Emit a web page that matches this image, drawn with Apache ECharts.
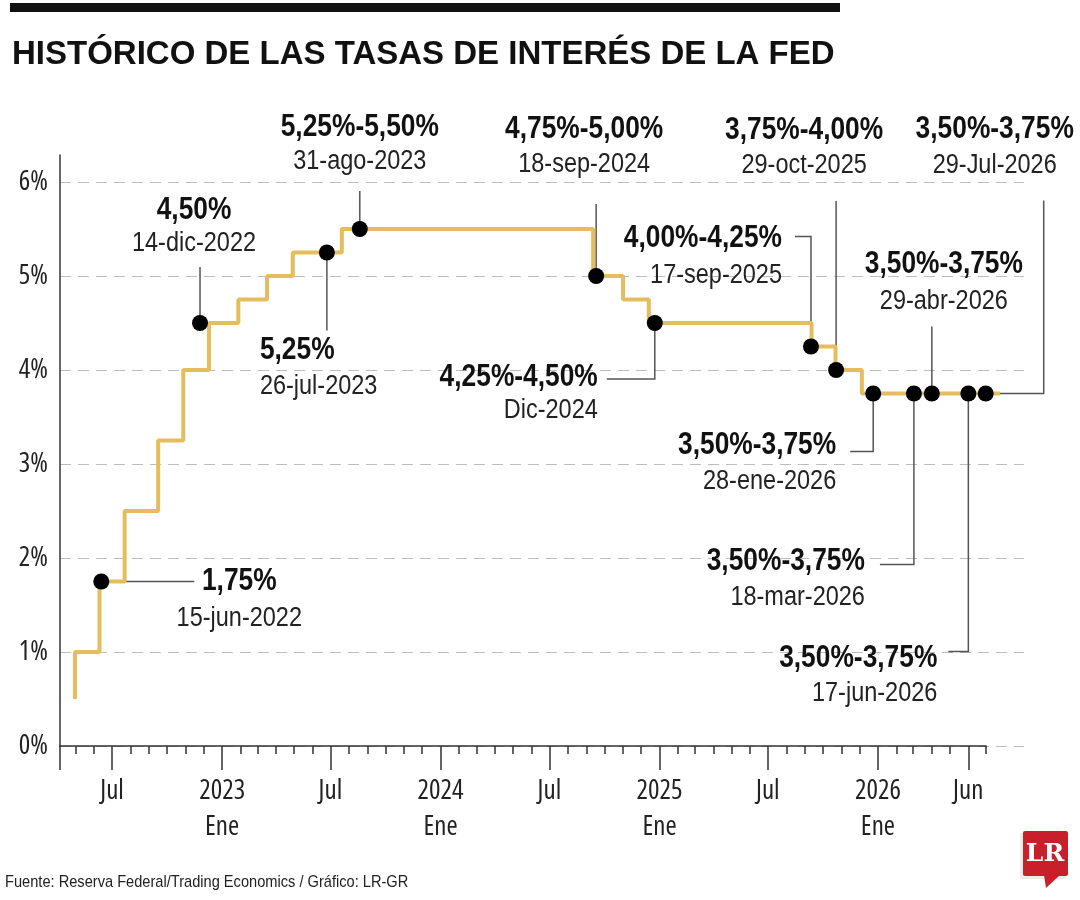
<!DOCTYPE html>
<html>
<head>
<meta charset="utf-8">
<script src="https://cdn.jsdelivr.net/npm/echarts@6/dist/echarts.min.js"></script>
<style>
html,body{margin:0;padding:0;background:#fff;}
#c{width:1080px;height:900px;}
</style>
</head>
<body>
<div id="c"></div>
<script>
// ---- data ----
const rateDates = ['2022-04-30','2022-04-30','2022-06-10','2022-07-22','2022-09-16','2022-10-28','2022-12-10','2023-01-28','2023-03-17','2023-04-29','2023-07-20','2024-09-12','2024-11-01','2024-12-14','2025-09-12','2025-10-22','2025-12-05','2026-07-24'];
const rateValues = [0.5,1.0,1.75,2.5,3.25,4.0,4.5,4.75,5.0,5.25,5.5,5.0,4.75,4.5,4.25,4.0,3.75,3.75];

const dotDates = ['2022-06-13','2022-11-25','2023-06-25','2023-08-19','2024-09-17','2024-12-24','2025-09-11','2025-10-23','2025-12-24','2026-03-02','2026-04-01','2026-06-01','2026-06-30'];
const dotValues = [1.75,4.5,5.25,5.5,5.0,4.5,4.25,4.0,3.75,3.75,3.75,3.75,3.75];

const annotRate = ['1,75%','4,50%','5,25%','5,25%-5,50%','4,75%-5,00%','4,25%-4,50%','4,00%-4,25%','3,75%-4,00%','3,50%-3,75%','3,50%-3,75%','3,50%-3,75%','3,50%-3,75%','3,50%-3,75%'];
const annotDate = ['15-jun-2022','14-dic-2022','26-jul-2023','31-ago-2023','18-sep-2024','Dic-2024','17-sep-2025','29-oct-2025','28-ene-2026','18-mar-2026','29-abr-2026','17-jun-2026','29-Jul-2026'];

const majorTickDates = ['2022-07-01','2023-01-01','2023-07-01','2024-01-01','2024-07-01','2025-01-01','2025-07-01','2026-01-01','2026-06-01'];
const majorTickLabels = ['Jul','2023\nEne','Jul','2024\nEne','Jul','2025\nEne','Jul','2026\nEne','Jun'];
const yTicks = [0,1,2,3,4,5,6];

const titleText = 'HISTÓRICO DE LAS TASAS DE INTERÉS DE LA FED';
const sourceText = 'Fuente: Reserva Federal/Trading Economics / Gráfico: LR-GR';

// ---- layout (annotation placement, pixels relative to each dot) ----
const annotLayout = [
  {leader:[[0,0],[93,0]], tx:138, ty1:0, ty2:37, align:'center'},
  {leader:[[0,0],[0,-56]], tx:-6, ty1:-113, ty2:-79, align:'center'},
  {leader:[[0,0],[0,78]], tx:-67, ty1:98, ty2:134, align:'left'},
  {leader:[[0,0],[0,-38]], tx:0, ty1:-102, ty2:-67, align:'center'},
  {leader:[[0,0],[0,-72]], tx:-12, ty1:-147, ty2:-111, align:'center'},
  {leader:[[0,0],[0,56],[-48,56]], tx:-57, ty1:54, ty2:88, align:'right'},
  {leader:[[0,0],[0,-110],[-16,-110]], tx:-29, ty1:-108, ty2:-71, align:'right'},
  {leader:[[0,0],[0,-169]], tx:-32, ty1:-240, ty2:-204, align:'center'},
  {leader:[[0,0],[0,58],[-23,58]], tx:-37, ty1:52, ty2:88, align:'right'},
  {leader:[[0,0],[0,171],[-34,171]], tx:-49, ty1:168, ty2:204, align:'right'},
  {leader:[[0,0],[0,-67]], tx:12, ty1:-129, ty2:-92, align:'center'},
  {leader:[[0,0],[0,258],[-20,258]], tx:-31, ty1:265, ty2:300, align:'right'},
  {leader:[[14,0],[58,0],[58,-193]], tx:9, ty1:-264, ty2:-228, align:'center'}
];

const TFONT = '"Liberation Sans",Arial,sans-serif';
const AFONT = '"Open Sans","Liberation Sans",sans-serif';
const parse = d => { const p = d.split('-').map(Number); return Date.UTC(p[0], p[1]-1, p[2]); };

const xMin = parse('2022-04-05'), xMaxA = parse('2026-09-02'), xMaxB = parse('2026-07-01');

// monthly minor ticks
const minorTicks = [];
for (let y = 2022, m = 4; y < 2026 || (y === 2026 && m <= 6); ) {
  m++; if (m > 12) { m = 1; y++; }
  minorTicks.push(Date.UTC(y, m-1, 1));
}
const majorTs = majorTickDates.map(parse);

const chart = echarts.init(document.getElementById('c'), null, {renderer:'canvas'});
const option = {
  animation: false,
  backgroundColor: '#fff',
  grid: [
    {left:60, top:182, width:964, height:564},
    {left:60, top:155, width:926.2, height:591}
  ],
  xAxis: [
    {gridIndex:0, type:'value', min:xMin, max:xMaxA, show:false, splitLine:{show:false}},
    {gridIndex:1, type:'value', min:xMin, max:xMaxB, position:'bottom',
      axisLine:{show:true, lineStyle:{color:'#333', width:1.5}},
      axisTick:{show:true, length:8, customValues:minorTicks, lineStyle:{color:'#333', width:1.5}},
      axisLabel:{show:false}, splitLine:{show:false}},
    {gridIndex:1, type:'value', min:xMin, max:xMaxB, position:'bottom',
      axisLine:{show:false},
      axisTick:{show:true, length:24, customValues:[xMin].concat(majorTs), lineStyle:{color:'#333', width:1.5}},
      axisLabel:{show:true, customValues:majorTs, margin:27, fontFamily:AFONT, fontWeight:'condensed', fontSize:27, lineHeight:36, color:'#222',
        formatter: function(v){
          let best=-1, bd=Infinity;
          majorTs.forEach((t,i)=>{const d=Math.abs(t-v); if(d<bd){bd=d;best=i;}});
          return bd < 86400000*3 ? majorTickLabels[best] : '';
        }},
      splitLine:{show:false}}
  ],
  yAxis: [
    {gridIndex:0, type:'value', min:0, max:6, interval:1,
      axisLine:{show:false}, axisTick:{show:false},
      axisLabel:{margin:12, fontFamily:AFONT, fontWeight:'condensed', fontSize:27, color:'#222', formatter: v => yTicks.includes(v) ? v + '%' : ''},
      splitLine:{show:true, lineStyle:{color:'#bdbdbd', type:[11,7], width:1.2}}},
    {gridIndex:1, type:'value', min:0, max:1,
      axisLine:{show:true, lineStyle:{color:'#333', width:1.5}}, axisTick:{show:false},
      axisLabel:{show:false}, splitLine:{show:false}}
  ],
  series: [
    {type:'line', xAxisIndex:0, yAxisIndex:0, step:'end', symbol:'none', clip:false, z:3,
      lineStyle:{color:'#E6BD5C', width:4},
      data: rateDates.map((d,i)=>[parse(d), rateValues[i]])},
    {type:'scatter', xAxisIndex:0, yAxisIndex:0, symbol:'circle', symbolSize:16, z:5,
      itemStyle:{color:'#000', opacity:1},
      data: dotDates.map((d,i)=>[parse(d), dotValues[i]])}
  ]
};
chart.setOption(option);

// ---- graphics: annotations, title, source, logo ----
const g = [];
g.push({type:'rect', shape:{x:10, y:3, width:830, height:9}, style:{fill:'#111'}});
g.push({type:'text', x:12, y:55, style:{text:titleText, font:'bold 33px ' + TFONT, fill:'#111', textVerticalAlign:'middle', textAlign:'left'}});
g.push({type:'text', x:5, y:882, scaleX:0.86, style:{text:sourceText, font:'17px ' + TFONT, fill:'#222', textVerticalAlign:'middle', textAlign:'left'}});

dotDates.forEach((d,i)=>{
  const p = chart.convertToPixel({xAxisIndex:0, yAxisIndex:0}, [parse(d), dotValues[i]]);
  const L = annotLayout[i];
  g.push({type:'polyline', z:1, shape:{points:L.leader.map(q=>[p[0]+q[0], p[1]+q[1]])},
    style:{stroke:'#555', lineWidth:1.5, fill:null}});
  g.push({type:'text', z:10, x:p[0]+L.tx, y:p[1]+L.ty1, scaleX:0.85,
    style:{text:annotRate[i], font:'bold 31px ' + TFONT, fill:'#111', textAlign:L.align, textVerticalAlign:'middle'}});
  g.push({type:'text', z:10, x:p[0]+L.tx, y:p[1]+L.ty2, scaleX:0.87,
    style:{text:annotDate[i], font:'27px ' + TFONT, fill:'#222', textAlign:L.align, textVerticalAlign:'middle'}});
});

// logo
g.push({type:'rect', shape:{x:1020, y:833, width:46, height:46, r:2}, style:{fill:'#ddd', opacity:0.6}});
g.push({type:'rect', shape:{x:1023, y:831, width:45, height:45, r:2}, style:{fill:'#C8202A'}});
g.push({type:'polygon', shape:{points:[[1044,875],[1060,875],[1046,888]]}, style:{fill:'#C8202A'}});
g.push({type:'text', x:1045, y:854, style:{text:'LR', font:'bold 25px "DejaVu Serif","Liberation Serif",serif', fill:'#fff', textAlign:'center', textVerticalAlign:'middle'}});

chart.setOption({graphic: g});
</script>
</body>
</html>
